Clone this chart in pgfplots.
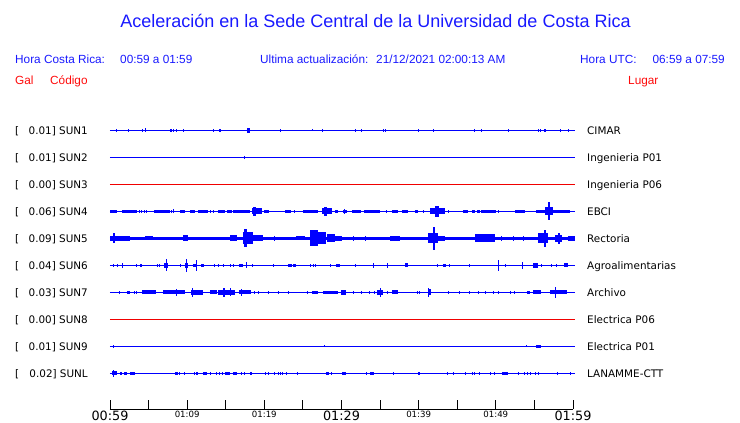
\documentclass[border=0pt]{standalone}
\usepackage{fontspec}
\setmainfont{Liberation Sans}
\newfontfamily\dvs{DejaVu Sans}
\usepackage{pgfplots}
\usepackage{pgfplotstable}
\pgfplotsset{compat=1.18}
\definecolor{trblue}{RGB}{0,0,255}
\definecolor{trred}{RGB}{240,0,0}
\definecolor{hdblue}{RGB}{25,25,255}
\definecolor{hdred}{RGB}{255,10,10}

% burst mark: rectangle of width \bw px and half-height \bh px
\pgfdeclareplotmark{burst}{%
  \pgfpathrectanglecorners{\pgfpoint{-0.5pt*\bw}{-1pt*\bh}}{\pgfpoint{0.5pt*\bw}{1pt*\bh}}%
  \pgfusepathqfill}

% t = minutes after 00:59, w = width (px), h = half-height (px)
\pgfplotstableread{
t w h
0.86 1.5 1.5
2.38 1 1.7
4.19 1 1.7
4.62 1.5 2
7.9 1.5 1.3
8.25 1 1.7
8.6 1 1.7
9.5 1 1.5
13.39 1 1.3
14.17 1 1.7
14.38 1 1.7
17.93 2.5 2.3
22.07 1 1.7
26.26 1 1.2
27.52 1 1.7
31.75 1 1.7
32.53 1 1.7
35.42 1 1.7
35.64 1 1.7
40.04 1 1.7
41.9 1 1.7
47.3 1 1.3
48.16 1 1.7
51.62 1 1.7
55.5 1 1.7
55.85 1 1.7
56.37 1.5 1.7
58.32 1 1.7
59.48 1 1.7
}\sunone
\pgfplotstableread{
t w h
17.4 1 1.7
}\suntwo
\pgfplotstableread{
t w h
0.43 6.7 1.3
2.48 15 1.3
3.76 1 1.3
4.1 1 1.3
4.45 1 1.3
4.75 1 1.3
6.76 15.7 1.3
8.0 1.5 1.5
8.2 1 2
9.4 5 1.3
10.69 5 1.3
12.1 10 1.3
12.96 1 1.3
13.39 1 1.3
14.47 6.7 1.3
15.44 5 1.3
17.06 16.7 1.3
19.0 10 3
18.7 3 4.5
20.3 4.7 1.7
23.07 6 1.3
23.9 1.5 1.3
26.03 15 1.3
28.08 10 3
27.9 3 4.3
29.37 3.3 1.3
30.45 3.3 1.3
30.45 1 2.5
31.9 9 1.3
34.0 16 1.3
35.85 1 1.3
36.93 6.7 1.3
38.23 6.7 1.3
39.74 3.3 1.3
40.6 1 1.3
42.42 15 3
42.42 4 5.5
43.85 1 1.3
46.1 5 1.3
47.1 3.3 1.3
47.73 3.3 1.3
49.1 15 1.3
50.3 1 1.3
53.13 10 1.3
55.8 8.3 1.3
56.9 8 4
56.9 2 9
58.53 16.7 1.3
}\sunfour
\pgfplotstableread{
t w h
1.3 20 2.7
0.56 2 5
5.08 8 2
9.72 5 3
15.98 6.7 3
17.88 10.7 6
17.5 3 9
19.22 10 3
21.38 1 2.5
24.7 8.3 2
26.44 8.3 8
27.5 8.3 6
28.6 8.3 4
29.6 6.7 2.5
31.53 1 2.5
33.05 1 2.5
36.93 10 2.5
41.86 10.7 5
42.0 2 11.5
42.98 6.7 2.5
48.6 20 4
50.76 1 2.5
52.27 1 2.5
53.56 1 2.5
56.16 10 5
56.37 2 8.5
58.1 6.7 3.5
58.19 1.5 5.5
59.83 6.7 2.5
}\sunfive
\pgfplotstableread{
t w h
0.43 1 1.3
0.99 1 1.3
1.6 1 2.3
3.46 1 1.3
4.02 2.3 1.7
6.13 1 1.3
6.39 1 1.3
7.26 4 2.5
7.26 1 6
9.2 1 1.3
9.94 3.3 2.5
9.94 1 6.7
11.0 3.3 1.7
11.23 1 5.7
11.97 3 1.7
13.52 1 1.3
14.04 1 1.3
14.73 1 1.3
15.64 1 1.3
16.03 1 1.3
16.98 3.3 1.7
17.71 1 3
18.44 1 1.3
21.25 1 1.3
23.33 3.3 1.7
23.97 3 1.7
26.0 1 1.3
26.35 1 1.3
26.65 1 1.3
28.55 1 1.3
29.59 4.3 1.7
31.75 1 1.3
34.13 1 2.5
35.98 1 2.5
38.44 3.3 2
42.38 1 1.3
43.33 2.7 1.7
44.06 1 1.3
46.65 1 1.3
50.32 1 5.7
51.19 1 1.3
53.48 1 3.7
55.16 5 2.5
55.94 1 1.3
57.15 1 1.3
57.88 1 1.3
59.14 4 2
}\sunsix
\pgfplotstableread{
t w h
1.17 1 1.3
2.38 3.3 1.7
3.15 1 1.3
3.46 1 1.3
5.05 13.3 2.2
8.29 21.7 2
8.64 1 3.5
11.27 12.3 2.5
10.71 1 4.3
13.39 6.7 2
15.12 16.7 2.7
14.77 1.5 4.3
15.64 1.5 4
17.54 12.3 2
17.06 1 3.3
18.7 1 1.3
19.22 1 1.3
20.52 1 1.3
21.81 1 1.3
23.11 1 1.3
25.62 1 1.3
26.61 6 1.5
28.6 15 1.7
30.32 5 2.7
31.53 1 1.3
32.53 1 1.3
33.69 1 1.3
34.25 1 1.3
35.03 5.7 2.5
34.99 1 4.3
35.98 1 1.3
36.98 6 2
39.87 1 1.3
40.09 1 1.3
41.38 3.3 3
41.25 1 4.3
43.85 1 1.3
45.23 1 1.3
46.65 1 1.3
47.73 1 1.3
48.6 1 1.3
49.72 1 1.3
50.32 1 1.3
51.84 1 1.3
52.48 1 1.3
54.25 2.7 1.5
55.38 8.3 2
58.1 16.7 2
57.75 1 5.7
}\sunseven
\pgfplotstableread{
t w h
0.43 1 1.7
27.78 1 1
54.0 1 1
55.5 4.7 1.5
}\sunnine
\pgfplotstableread{
t w h
0.52 5 2
0.43 1 3.3
1.3 1 1.7
1.51 1 1.7
1.99 3 1.7
2.89 5 1.7
8.6 2.7 1.7
9.07 1 1.7
9.63 1 1.7
10.93 1 1.7
11.23 2 1.7
12.35 4.3 1.7
12.96 1 1.7
13.74 1 1.7
14.25 1 1.7
14.56 1 1.7
15.2 4.7 1.7
16.2 3.7 1.7
17.06 1 1.7
17.41 1 1.7
18.27 2.7 1.7
20.17 1 1.7
20.6 1 1.7
21.38 1 1.7
21.81 1 1.7
22.16 1 1.7
22.33 1 1.7
22.81 1 1.7
24.28 1 1.7
28.16 3.3 1.7
28.73 1 1.7
30.28 4 1.7
33.18 1 1.7
33.91 3.7 1.7
36.76 1 1.7
39.96 1 1.7
40.17 1 1.7
43.72 1 1.7
44.49 1 1.7
46.09 1 1.7
47.04 1 1.7
47.3 1 1.7
47.9 1 1.7
49.37 1 1.7
49.81 1 1.7
51.14 6 1.7
53.0 1 1.7
53.69 1 1.7
54.13 1 1.7
54.43 1 1.7
55.08 1 1.7
55.51 1 1.7
58.01 1 1.7
59.65 1 1.7
}\sunL

\pgfplotsset{
  trace/.style={only marks, mark=burst, color=trblue, mark options={fill=trblue, draw=none},
    visualization depends on={\thisrow{w}\as\bw},
    visualization depends on={\thisrow{h}\as\bh}},
  base/.style={color=trblue, line width=1.4pt, mark=none},
}

\begin{document}
\begin{tikzpicture}[x=1pt,y=1pt]
\begin{axis}[
  width=463pt, height=294pt, scale only axis,
  xmin=0, xmax=60, ymin=14, ymax=308,
  clip=false,
  axis x line=bottom, axis y line=none,
  axis line style={-, black, line width=0.9pt},
  xtick={0,5,...,60},
  xticklabels={{\fontsize{12.8}{14}\selectfont 00:59},,{\fontsize{8.6}{10}\selectfont 01:09},,{\fontsize{8.6}{10}\selectfont 01:19},,{\fontsize{12.8}{14}\selectfont 01:29},,{\fontsize{8.6}{10}\selectfont 01:39},,{\fontsize{8.6}{10}\selectfont 01:49},,{\fontsize{12.8}{14}\selectfont 01:59}},
  xticklabel style={font=\dvs, anchor=north, inner sep=0pt, yshift=-2pt},
  tick align=inside, major tick length=9pt,
  tick style={black, line width=0.9pt},
]
% baselines
\addplot[base] coordinates {(0,292.7) (60.2,292.7)};
\addplot[base] coordinates {(0,265.7) (60.2,265.7)};
\addplot[color=trred, line width=1.3pt] coordinates {(0,238.7) (60.2,238.7)};
\addplot[base] coordinates {(0,211.7) (60.2,211.7)};
\addplot[color=trblue, line width=3.3pt] coordinates {(0,184.7) (60.2,184.7)};
\addplot[base] coordinates {(0,157.7) (60.2,157.7)};
\addplot[base] coordinates {(0,130.7) (60.2,130.7)};
\addplot[color=trred, line width=1.3pt] coordinates {(0,103.7) (60.2,103.7)};
\addplot[base] coordinates {(0,76.7) (60.2,76.7)};
\addplot[base] coordinates {(0,49.7) (60.2,49.7)};
% bursts
\addplot[trace] table[x=t, y expr=292.7] {\sunone};
\addplot[trace] table[x=t, y expr=265.7] {\suntwo};
\addplot[trace] table[x=t, y expr=211.7] {\sunfour};
\addplot[trace] table[x=t, y expr=184.7] {\sunfive};
\addplot[trace] table[x=t, y expr=157.7] {\sunsix};
\addplot[trace] table[x=t, y expr=130.7] {\sunseven};
\addplot[trace] table[x=t, y expr=76.7] {\sunnine};
\addplot[trace] table[x=t, y expr=49.7] {\sunL};
\coordinate (O) at (axis cs:0,14);
\end{axis}
\pgfresetboundingbox
\begin{scope}[shift={(O)}]
\begin{scope}[shift={(-110,-14)}]
\useasboundingbox (0,0) rectangle (740,423);
% title and header
\node[anchor=base, text=hdblue, font=\fontsize{18}{21}\selectfont] at (375.5,395) {Aceleración en la Sede Central de la Universidad de Costa Rica};
\begin{scope}[every node/.style={font=\fontsize{11.8}{14}\selectfont, inner sep=0pt, text=hdblue}]
\node[anchor=base west] at (15,359) {Hora Costa Rica:};
\node[anchor=base west] at (120,359) {00:59 a 01:59};
\node[anchor=base west] at (260,359) {Ultima actualización:};
\node[anchor=base west] at (376,359) {21/12/2021 02:00:13 AM};
\node[anchor=base west] at (580,359) {Hora UTC:};
\node[anchor=base east] at (725,359) {06:59 a 07:59};
\node[anchor=base west, text=hdred] at (15,338) {Gal};
\node[anchor=base west, text=hdred] at (50,338) {Código};
\node[anchor=base west, text=hdred] at (628,338) {Lugar};
\end{scope}
% station labels
\begin{scope}[every node/.style={font=\dvs\fontsize{10.4}{12}\selectfont, inner sep=0pt, text=black}]
\foreach \yy/\val/\code/\place in {
  292.7/0.01/SUN1/CIMAR,
  265.7/0.01/SUN2/Ingenieria P01,
  238.7/0.00/SUN3/Ingenieria P06,
  211.7/0.06/SUN4/EBCI,
  184.7/0.09/SUN5/Rectoria,
  157.7/0.04/SUN6/Agroalimentarias,
  130.7/0.03/SUN7/Archivo,
  103.7/0.00/SUN8/Electrica P06,
  76.7/0.01/SUN9/Electrica P01,
  49.7/0.02/SUNL/LANAMME-CTT}{
  \node[anchor=base west] at (15,\yy-3.8) {[};
  \node[anchor=base east] at (88,\yy-3.8) {\val] \code};
  \node[anchor=base west] at (587,\yy-3.8) {\place};
}
\end{scope}
\end{scope}
\end{scope}
\end{tikzpicture}
\end{document}
